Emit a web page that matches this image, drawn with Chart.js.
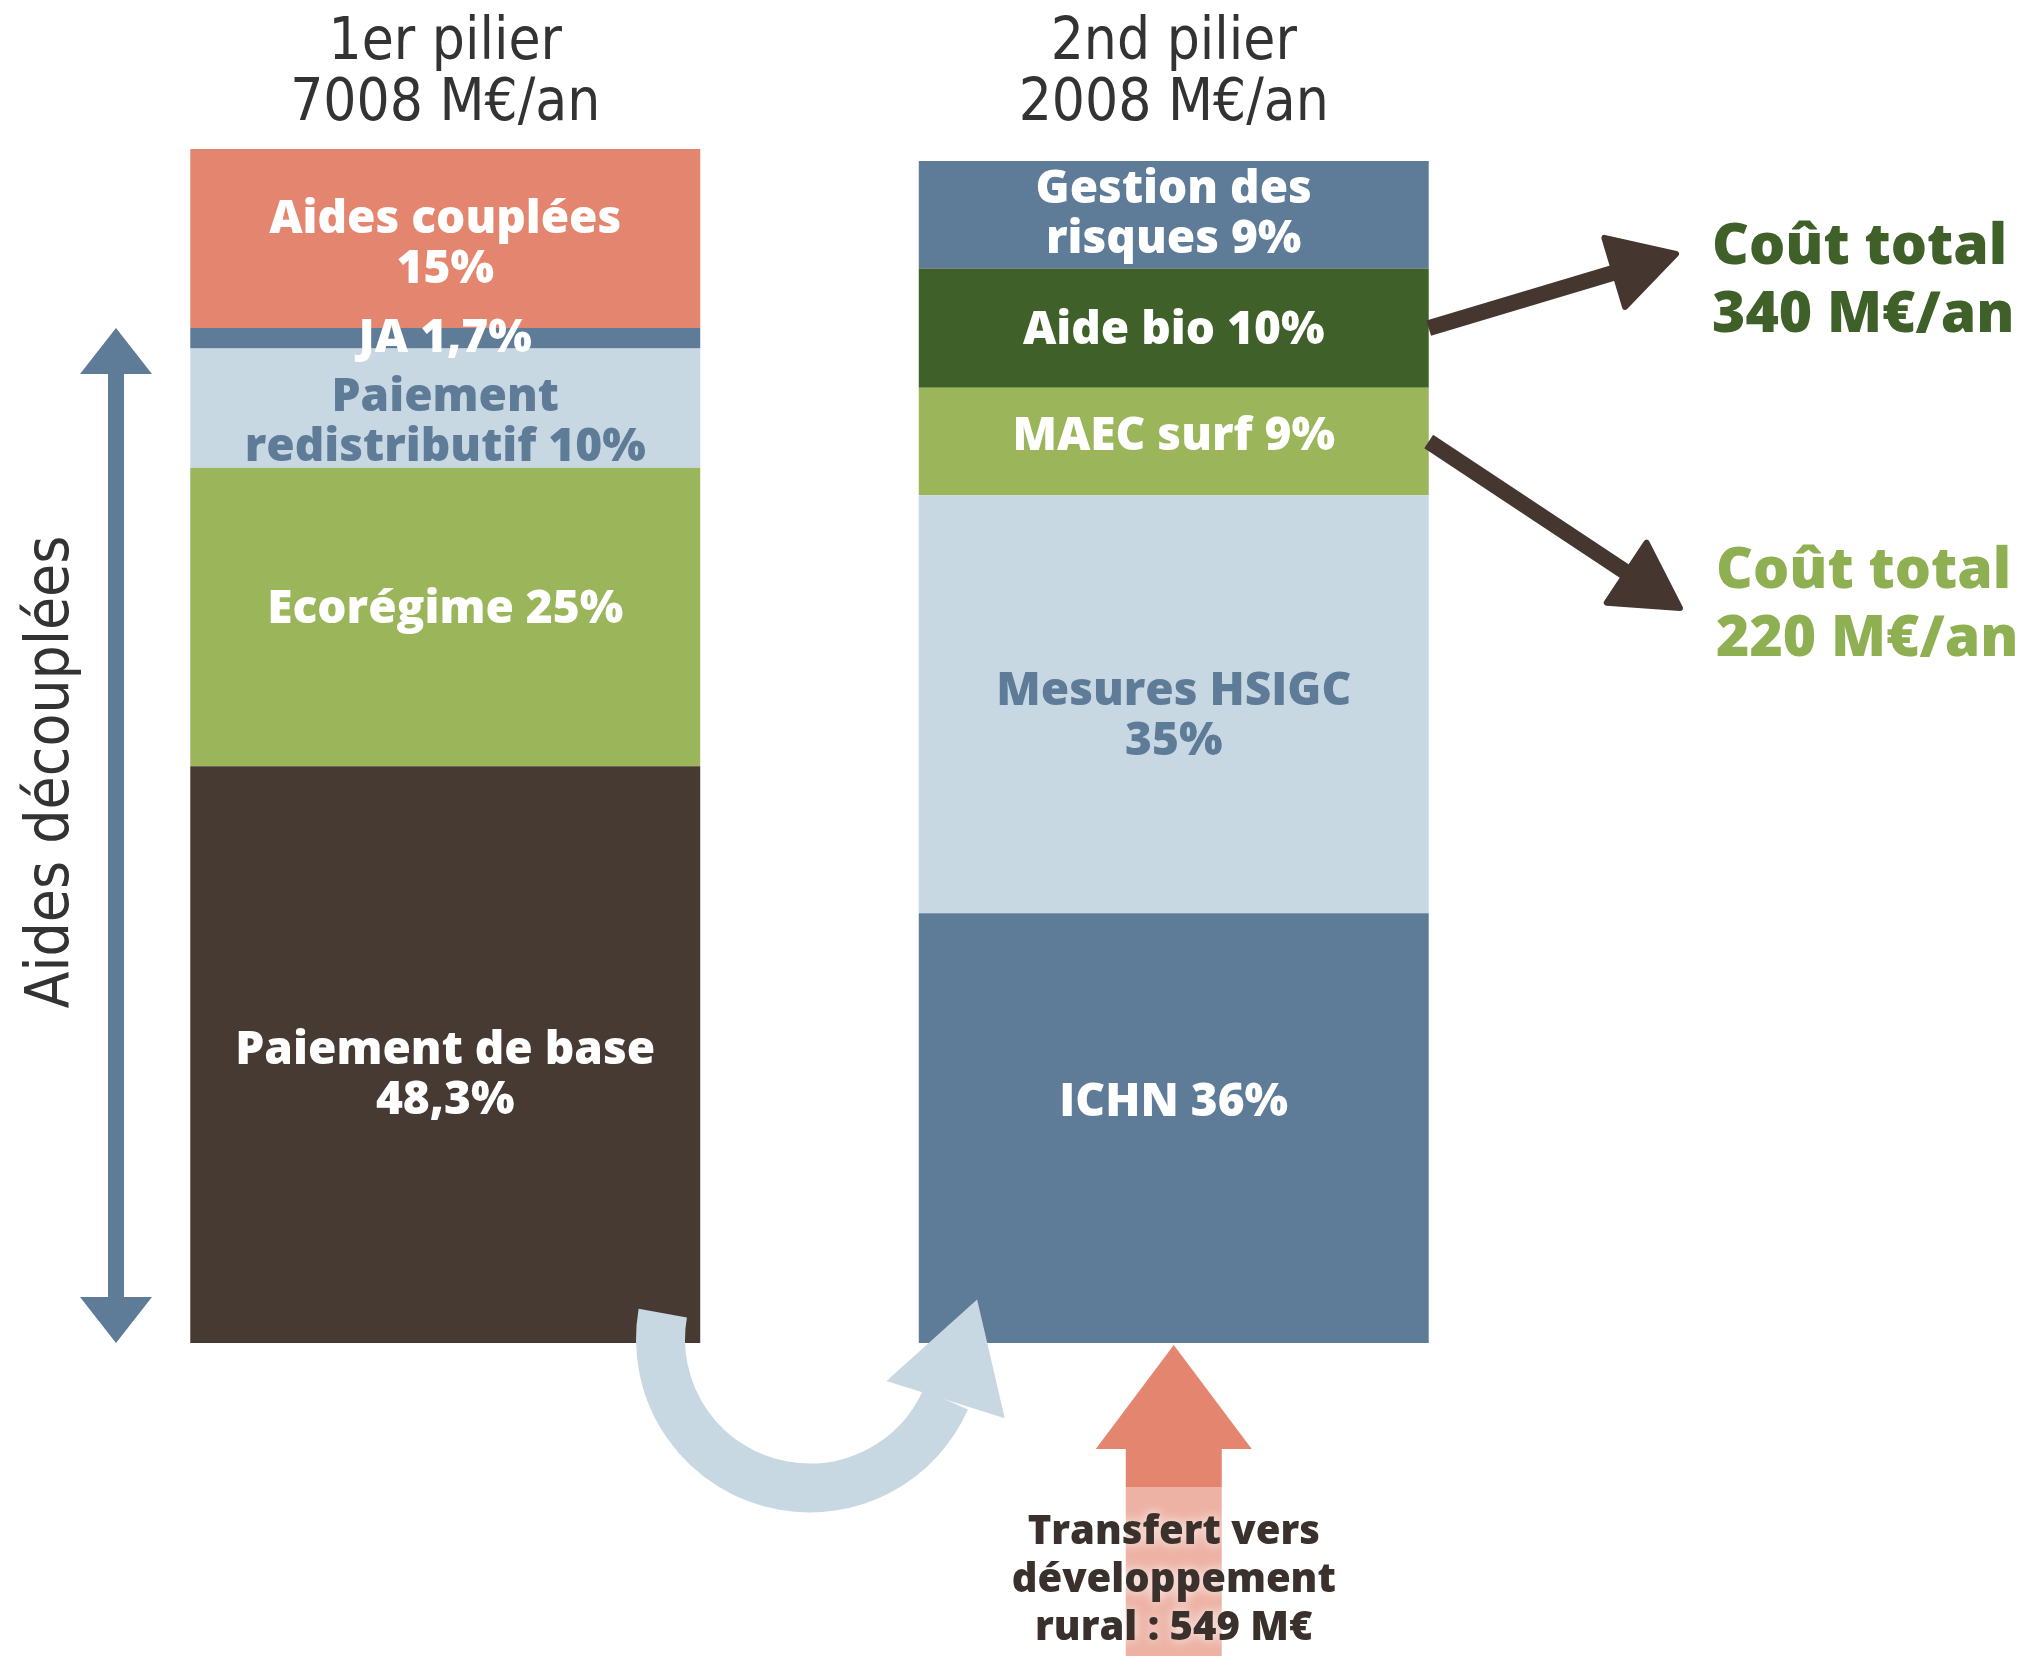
<!DOCTYPE html>
<html lang="fr">
<head>
  <meta charset="UTF-8">
  <title>PAC - 1er et 2nd pilier</title>
  <style>
    html, body { margin: 0; padding: 0; background: #fff; }
    #wrap { width: 2028px; height: 1656px; }
  </style>
</head>
<body>
<div id="wrap"><canvas id="pacChart" width="2028" height="1656"></canvas></div>
<script src="https://cdn.jsdelivr.net/npm/chart.js"></script>
<script>
// Données (du bas vers le haut de chaque pilier) ; '|' = retour à la ligne
var piliers = ['1er pilier', '2nd pilier'];
var montants = ['7008 M€/an', '2008 M€/an'];
var postes1 = ['Paiement de base|', 'Ecorégime', 'Paiement|redistributif', 'JA', 'Aides couplées|'];
var parts1 = [48.3, 25, 10, 1.7, 15];
var postes2 = ['ICHN', 'Mesures HSIGC|', 'MAEC surf', 'Aide bio', 'Gestion des|risques'];
var parts2 = [36, 35, 9, 10, 9];
var coutsTotaux = ['Coût total|340 M€/an', 'Coût total|220 M€/an'];
var transfert = 'Transfert vers|développement|rural : 549 M€';
var aidesDecouplees = 'Aides découplées';

// Couleurs
var couleurs1 = ['#463a33', '#9ab55a', '#c8d8e3', '#5e7b98', '#e4866f'];
var couleurs2 = ['#5e7b98', '#c8d8e3', '#9ab55a', '#3f6028', '#5e7b98'];
var bleuClair = '#c8d8e3';
var bleu = '#5e7b98';
var brun = '#45372f';
var saumon = '#e4866f';

// petit décalage vertical des étiquettes (px)
var decal1 = [21, -7, 15, 1, 6];
var decal2 = [-25, 13, -5, 3, 0];

var GRAS = "'Open Sans', Lato, sans-serif";
var COND = "'DejaVu Sans Condensed', 'Liberation Sans Narrow', sans-serif";

function fmt(v) { return String(v).replace('.', ',') + '%'; }

var datasets = [];
for (var i = 0; i < parts1.length; i++) {
  datasets.push({
    label: postes1[i] + ' / ' + postes2[i],
    data: [parts1[i], parts2[i]],
    backgroundColor: [couleurs1[i], couleurs2[i]],
    textes: [
      (postes1[i] + ' ' + fmt(parts1[i])).split('|').map(function (s) { return s.trim(); }),
      (postes2[i] + ' ' + fmt(parts2[i])).split('|').map(function (s) { return s.trim(); })
    ],
    decal: [decal1[i], decal2[i]],
    borderWidth: 0
  });
}

function tete(ctx, x2, y2, a, long, demiLarg) {
  var bx = x2 - Math.cos(a) * long, by = y2 - Math.sin(a) * long;
  ctx.beginPath();
  ctx.moveTo(x2, y2);
  ctx.lineTo(bx + Math.sin(a) * demiLarg, by - Math.cos(a) * demiLarg);
  ctx.lineTo(bx - Math.sin(a) * demiLarg, by + Math.cos(a) * demiLarg);
  ctx.closePath(); ctx.fill();
}

// flèche droite avec tête triangulaire
function fleche(ctx, x1, y1, x2, y2, ep, long, demiLarg, coul) {
  var a = Math.atan2(y2 - y1, x2 - x1);
  ctx.save();
  ctx.strokeStyle = coul; ctx.fillStyle = coul; ctx.lineWidth = ep;
  ctx.beginPath(); ctx.moveTo(x1, y1);
  ctx.lineTo(x2 - Math.cos(a) * (long - 2), y2 - Math.sin(a) * (long - 2)); ctx.stroke();
  ctx.lineJoin = 'round'; ctx.lineWidth = 6;
  tete(ctx, x2, y2, a, long, demiLarg); ctx.stroke();
  ctx.restore();
}

function lignes(ctx, txt, x, y, hl) {
  var l = txt.split('|');
  var y0 = y - (l.length - 1) * hl / 2;
  l.forEach(function (s, k) { ctx.fillText(s, x, y0 + k * hl); });
}

var decor = {
  id: 'decor',
  afterDatasetsDraw: function (chart) {
    var ctx = chart.ctx, xs = chart.scales.x, ys = chart.scales.y;
    var metas = chart.data.datasets.map(function (d, i) { return chart.getDatasetMeta(i); });
    var b1 = metas[0].data[0], b2 = metas[0].data[1];
    var w = b1.width;

    // étiquettes des segments
    ctx.save();
    ctx.textAlign = 'center'; ctx.textBaseline = 'middle'; ctx.font = '800 46px ' + GRAS;
    chart.data.datasets.forEach(function (ds, i) {
      metas[i].data.forEach(function (bar, j) {
        var t = ds.textes[j];
        var cy = (bar.y + bar.base) / 2 + ds.decal[j];
        ctx.fillStyle = ds.backgroundColor[j] === bleuClair ? bleu : '#ffffff';
        var y0 = cy - (t.length - 1) * 25;
        t.forEach(function (s, k) { ctx.fillText(s, bar.x, y0 + k * 50); });
      });
    });
    ctx.restore();

    // titres des piliers
    ctx.save();
    ctx.textAlign = 'center'; ctx.textBaseline = 'middle';
    ctx.font = '58px ' + COND; ctx.fillStyle = '#333333';
    piliers.forEach(function (p, j) {
      var x = xs.getPixelForValue(j);
      ctx.fillText(p, x, 44);
      ctx.fillText(montants[j], x, 105);
    });
    ctx.restore();

    // double flèche "Aides découplées" (0 -> 85 %)
    var xa = 116, yh = ys.getPixelForValue(85), yb = ys.getPixelForValue(0);
    ctx.save();
    ctx.fillStyle = bleu;
    ctx.fillRect(xa - 8, yh + 40, 16, yb - yh - 80);
    tete(ctx, xa, yh, -Math.PI / 2, 46, 36);
    tete(ctx, xa, yb, Math.PI / 2, 46, 36);
    ctx.translate(52, 772); ctx.rotate(-Math.PI / 2);
    ctx.textAlign = 'center'; ctx.textBaseline = 'middle';
    ctx.font = '60px ' + COND; ctx.fillStyle = '#333333';
    ctx.fillText(aidesDecouplees, 0, 0);
    ctx.restore();

    // flèches vers les coûts totaux
    var xd = b2.x + w / 2;
    var yBio = ys.getPixelForValue(80 + 5), yMaec = ys.getPixelForValue(71 + 4.5);
    fleche(ctx, xd, yBio, 1676, 254, 16, 64, 36, brun);
    fleche(ctx, xd, yMaec, 1680, 608, 16, 64, 36, brun);
    ctx.save();
    ctx.textAlign = 'left'; ctx.textBaseline = 'middle';
    ctx.font = '800 57px ' + GRAS;
    ctx.fillStyle = '#3f6028'; lignes(ctx, coutsTotaux[0], 1712, 282, 68);
    ctx.fillStyle = '#8fb052'; lignes(ctx, coutsTotaux[1], 1716, 606, 68);
    ctx.restore();

    // flèche courbe entre les deux piliers
    var cx = (b1.x + w / 2 + b2.x - w / 2) / 2, cy = yb - 4, r = 149;
    var a0 = 190 * Math.PI / 180, a1 = 24 * Math.PI / 180;
    ctx.save();
    ctx.strokeStyle = bleuClair; ctx.fillStyle = bleuClair; ctx.lineWidth = 49;
    ctx.beginPath(); ctx.arc(cx, cy, r, a0, a1, true); ctx.stroke();
    var ex = cx + r * Math.cos(a1), ey = cy + r * Math.sin(a1);
    tete(ctx, ex + 0.3 * 105, ey - 0.954 * 105, Math.atan2(-0.954, 0.3), 105, 62);
    ctx.restore();

    // flèche de transfert vers le 2nd pilier
    var xt = b2.x, yTop = yb + 2;
    ctx.save();
    ctx.fillStyle = '#edb2a4';
    ctx.fillRect(xt - 48, 1487, 96, 1656 - 1487);
    ctx.fillStyle = saumon;
    ctx.fillRect(xt - 48, yTop + 100, 96, 1487 - yTop - 100);
    tete(ctx, xt, yTop, -Math.PI / 2, 104, 78);
    ctx.textAlign = 'center'; ctx.textBaseline = 'middle';
    ctx.font = '800 40px ' + GRAS;
    ctx.shadowColor = 'rgba(255,255,255,0.9)'; ctx.shadowBlur = 12;
    ctx.fillStyle = '#3b312c';
    lignes(ctx, transfert, xt, 1581, 48);
    ctx.restore();
  }
};

var ctx = document.getElementById('pacChart').getContext('2d');
var pacChart = new Chart(ctx, {
  type: 'bar',
  data: { labels: piliers, datasets: datasets },
  options: {
    responsive: false,
    devicePixelRatio: 1,
    animation: false,
    layout: { padding: { left: 81, right: 490, top: 149, bottom: 313 } },
    datasets: { bar: { barPercentage: 0.7, categoryPercentage: 1 } },
    plugins: { legend: { display: false }, tooltip: { enabled: false } },
    scales: {
      x: { stacked: true, display: false },
      y: { stacked: true, display: false, min: 0, max: 100 }
    }
  },
  plugins: [decor]
});
</script>
</body>
</html>
